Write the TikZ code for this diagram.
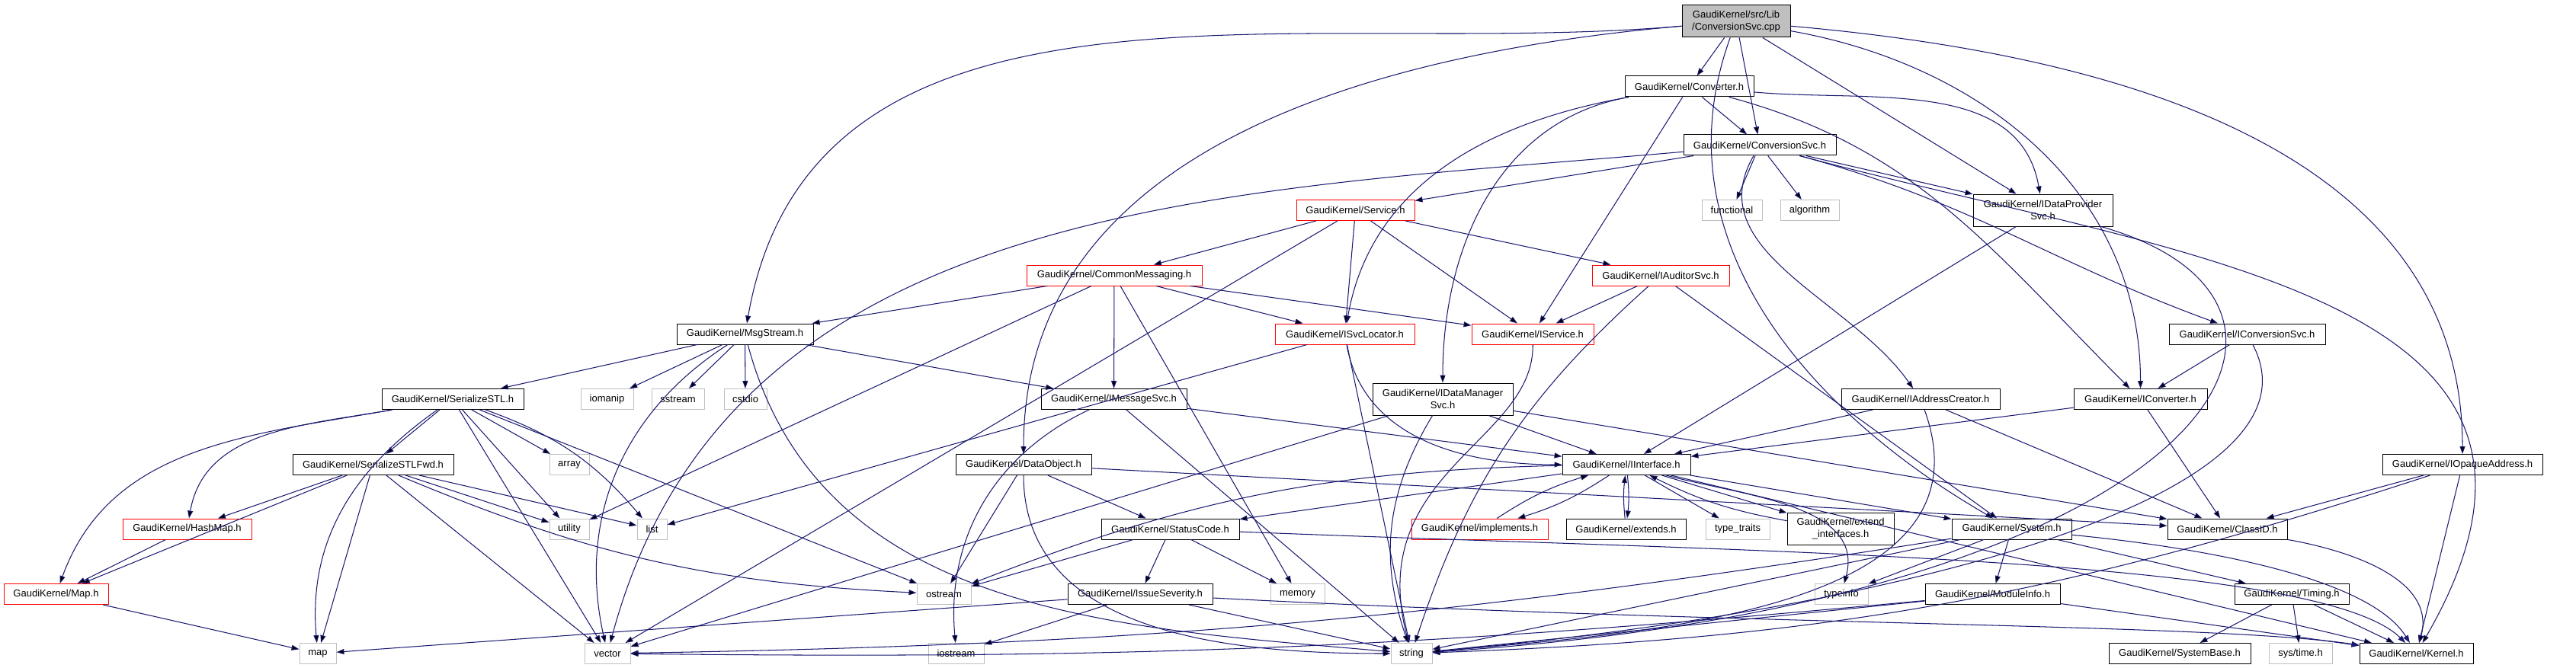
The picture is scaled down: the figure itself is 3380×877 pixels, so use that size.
\documentclass[tikz,border=0pt]{standalone}
\usepackage{fontspec}
\setmainfont{Liberation Sans}
\usetikzlibrary{arrows.meta}
\definecolor{edgeblue}{RGB}{25,25,112}
\definecolor{boxgray}{RGB}{191,191,191}

\begin{document}
\begin{tikzpicture}[x=0.25pt, y=-0.25pt,
	hb/.style={rectangle, draw=black, line width=0.25pt, inner sep=0pt, minimum height=6.75pt, font=\fontsize{3.25}{4}\selectfont, align=center},
	rb/.style={hb, draw=red},
	gb/.style={hb, draw=boxgray},
	tb/.style={minimum height=10.5pt},
	wd/.style={minimum width=#1*0.25pt},
	e/.style={draw=edgeblue, line width=0.26pt, -{Triangle[length=2.5pt,width=1.75pt]}}]
	\useasboundingbox (0,0) rectangle (3380,877);

	% files
	\node[hb, tb, fill=boxgray, wd=142] (root) at (2278,28) {GaudiKernel/src/Lib\\/ConversionSvc.cpp};
	\node[hb, wd=169] (conv) at (2216.5,113.5) {GaudiKernel/Converter.h};
	\node[hb, wd=200] (convsvc) at (2309,190.5) {GaudiKernel/ConversionSvc.h};
	\node[rb, wd=155] (svc) at (1778.5,276) {GaudiKernel/Service.h};
	\node[gb, wd=79] (functional) at (2272.5,276) {functional};
	\node[gb, wd=77] (algorithm) at (2374.5,276) {algorithm};
	\node[hb, tb, wd=183] (idps) at (2680.5,276) {GaudiKernel/IDataProvider\\Svc.h};
	\node[rb, wd=230] (cmsg) at (1462,361.5) {GaudiKernel/CommonMessaging.h};
	\node[rb, wd=180] (iaud) at (2179,361.5) {GaudiKernel/IAuditorSvc.h};
	\node[hb, wd=179] (msgs) at (977.5,438.5) {GaudiKernel/MsgStream.h};
	\node[rb, wd=183] (isvcl) at (1764.5,438.5) {GaudiKernel/ISvcLocator.h};
	\node[rb, wd=160] (isrv) at (2011,438.5) {GaudiKernel/IService.h};
	\node[hb, wd=205] (icsvc) at (2948.5,438.5) {GaudiKernel/IConversionSvc.h};
	\node[hb, wd=186] (sstl) at (594,524) {GaudiKernel/SerializeSTL.h};
	\node[gb, wd=69] (iomanip) at (796.5,524) {iomanip};
	\node[gb, wd=69] (sstream) at (889.5,524) {sstream};
	\node[gb, wd=56] (cstdio) at (978,524) {cstdio};
	\node[hb, wd=191] (imsg) at (1461.5,524) {GaudiKernel/IMessageSvc.h};
	\node[hb, tb, wd=184] (idms) at (1893,524) {GaudiKernel/IDataManager\\Svc.h};
	\node[hb, wd=208] (iac) at (2520,524) {GaudiKernel/IAddressCreator.h};
	\node[hb, wd=175] (iconv) at (2808.5,524) {GaudiKernel/IConverter.h};
	\node[hb, wd=211] (sstlfwd) at (489.5,610) {GaudiKernel/SerializeSTLFwd.h};
	\node[gb, wd=52] (array) at (747,610) {array};
	\node[hb, wd=178] (dobj) at (1343,610) {GaudiKernel/DataObject.h};
	\node[hb, wd=168] (iint) at (2134,610) {GaudiKernel/IInterface.h};
	\node[hb, wd=210] (iopaque) at (3231,610) {GaudiKernel/IOpaqueAddress.h};
	\node[rb, wd=169] (hashmap) at (245.5,694.5) {GaudiKernel/HashMap.h};
	\node[gb, wd=52] (utility) at (747,694.5) {utility};
	\node[gb, wd=39] (list) at (855.5,694.5) {list};
	\node[hb, wd=181] (scode) at (1535.5,694.5) {GaudiKernel/StatusCode.h};
	\node[rb, wd=179] (impl) at (1941.5,694.5) {GaudiKernel/implements.h};
	\node[hb, wd=157] (extends) at (2133.5,694.5) {GaudiKernel/extends.h};
	\node[gb, wd=84] (ttraits) at (2280,694.5) {type\_traits};
	\node[hb, tb, wd=140] (extif) at (2415,694.5) {GaudiKernel/extend\\\_interfaces.h};
	\node[hb, wd=157] (sys) at (2639.5,694.5) {GaudiKernel/System.h};
	\node[hb, wd=157] (classid) at (2922.5,694.5) {GaudiKernel/ClassID.h};
	\node[rb, wd=137] (maph) at (73.5,780) {GaudiKernel/Map.h};
	\node[gb, wd=71] (ostream) at (1238.5,780) {ostream};
	\node[hb, wd=190] (isev) at (1496,780) {GaudiKernel/IssueSeverity.h};
	\node[gb, wd=71] (memory) at (1702.5,780) {memory};
	\node[gb, wd=70] (typeinfo) at (2416,780) {typeinfo};
	\node[hb, wd=177] (minfo) at (2614.5,780) {GaudiKernel/ModuleInfo.h};
	\node[hb, wd=150] (timing) at (3007,780) {GaudiKernel/Timing.h};
	\node[gb, wd=48] (map) at (417,858) {map};
	\node[gb, wd=60] (vector) at (797,858) {vector};
	\node[gb, wd=73] (iostream) at (1254.5,858) {iostream};
	\node[gb, wd=54] (string) at (1852,858) {string};
	\node[hb, wd=186] (sysbase) at (2860,858) {GaudiKernel/SystemBase.h};
	\node[gb, wd=83] (systime) at (3018.5,858) {sys/time.h};
	\node[hb, wd=149] (kernel) at (3170.5,858) {GaudiKernel/Kernel.h};


	% includes
	\path[e] (root) edge (conv) edge (convsvc) edge (idps) edge[out=-10, in=90] (iconv) edge[out=-5, in=90] (iopaque) edge[out=185, in=80] (msgs) edge[out=185, in=90] (dobj) edge[out=-110, in=150] (sys);
	\path[e] (conv) edge (convsvc) edge[out=-5, in=100] (idps) edge[out=-15, in=135] (iconv) edge[out=190, in=90] (idms) edge[out=190, in=80] (isvcl) edge (isrv);
	\path[e] (convsvc) edge (svc) edge (functional) edge (algorithm) edge (idps) edge[out=-15, in=160] (icsvc) edge[out=-15, in=60, looseness=1.3] (kernel) edge[out=185, in=75] (vector) edge[out=-120, in=125] (iac);
	\path[e] (svc) edge (cmsg) edge (vector) edge (isvcl) edge (isrv) edge (iaud);
	\path[e] (idps) edge (iint);
	\draw[e] (idps) .. controls (3120,400) and (2900,790) .. (string);
	\path[e] (cmsg) edge (msgs) edge (utility) edge (imsg) edge (memory) edge (isvcl) edge (isrv);
	\path[e] (iaud) edge (isrv) edge[bend right=15] (string) edge (sys);
	\path[e] (msgs) edge (sstl) edge (iomanip) edge (sstream) edge (cstdio) edge[out=-75, in=175] (string) edge (imsg) edge[bend right=35] (vector);
	\path[e] (isvcl) edge (string) edge[out=-80, in=180] (iint) edge (list);
	\draw[e] (isrv) .. controls (2013,580) and (1790,620) .. (string);
	\path[e] (icsvc) edge (iconv);
	\draw[e] (icsvc) .. controls (3060,650) and (2500,800) .. (string);
	\path[e] (sstl) edge (sstlfwd) edge (array) edge[bend left=15] (list) edge (utility) edge (vector) edge (ostream) edge[out=190, in=80] (hashmap) edge[out=190, in=70] (maph) edge[out=215, in=95] (map);
	\path[e] (imsg) edge (iint) edge (string) edge[bend right=35] (iostream);
	\path[e] (idms) edge (iint) edge (classid) edge[bend right=25] (string) edge (vector);
	\path[e] (iac) edge (iint) edge[out=-70, in=5] (string) edge (classid);
	\path[e] (iconv) edge (iint) edge (classid);
	\path[e] (sstlfwd) edge (hashmap) edge (maph) edge (map) edge (vector) edge[bend right=10] (ostream) edge (list) edge (utility);
	\path[e] (dobj) edge (ostream) edge[out=-90, in=180] (string) edge (scode) edge (classid);
	\path[e] (iint) edge[bend right=10] (ostream) edge (scode) edge (kernel) edge (sys) edge (ttraits) edge (extif) edge[bend left=6] (extends) edge[bend left=8] (impl) edge[out=-15, in=75] (typeinfo);
	\path[e] (impl) edge[bend left=8] (iint);
	\path[e] (extends) edge[bend left=6] (iint);
	\path[e] (extif) edge[bend left=8] (iint);
	\path[e] (iopaque) edge (classid) edge (kernel) edge[bend left=8] (string);
	\path[e] (hashmap) edge (maph);
	\path[e] (maph) edge (map);
	\path[e] (scode) edge (ostream) edge (isev) edge (memory);
	\draw[e] (scode) .. controls (2300,725) and (3040,730) .. (kernel);
	\path[e] (sys) edge (typeinfo) edge (minfo) edge (timing) edge (string) edge[bend left=4] (vector);
	\draw[e] (sys) .. controls (2900,720) and (3110,760) .. (kernel);
	\path[e] (minfo) edge (kernel) edge (string) edge[bend left=3] (vector);
	\path[e] (timing) edge (sysbase) edge (systime) edge (kernel);
	\path[e] (classid) edge[out=-10, in=75] (kernel);
	\path[e] (isev) edge (map) edge (iostream) edge (string);
	\draw[e] (isev) .. controls (2300,822) and (2900,818) .. (kernel);
\end{tikzpicture}
\end{document}
